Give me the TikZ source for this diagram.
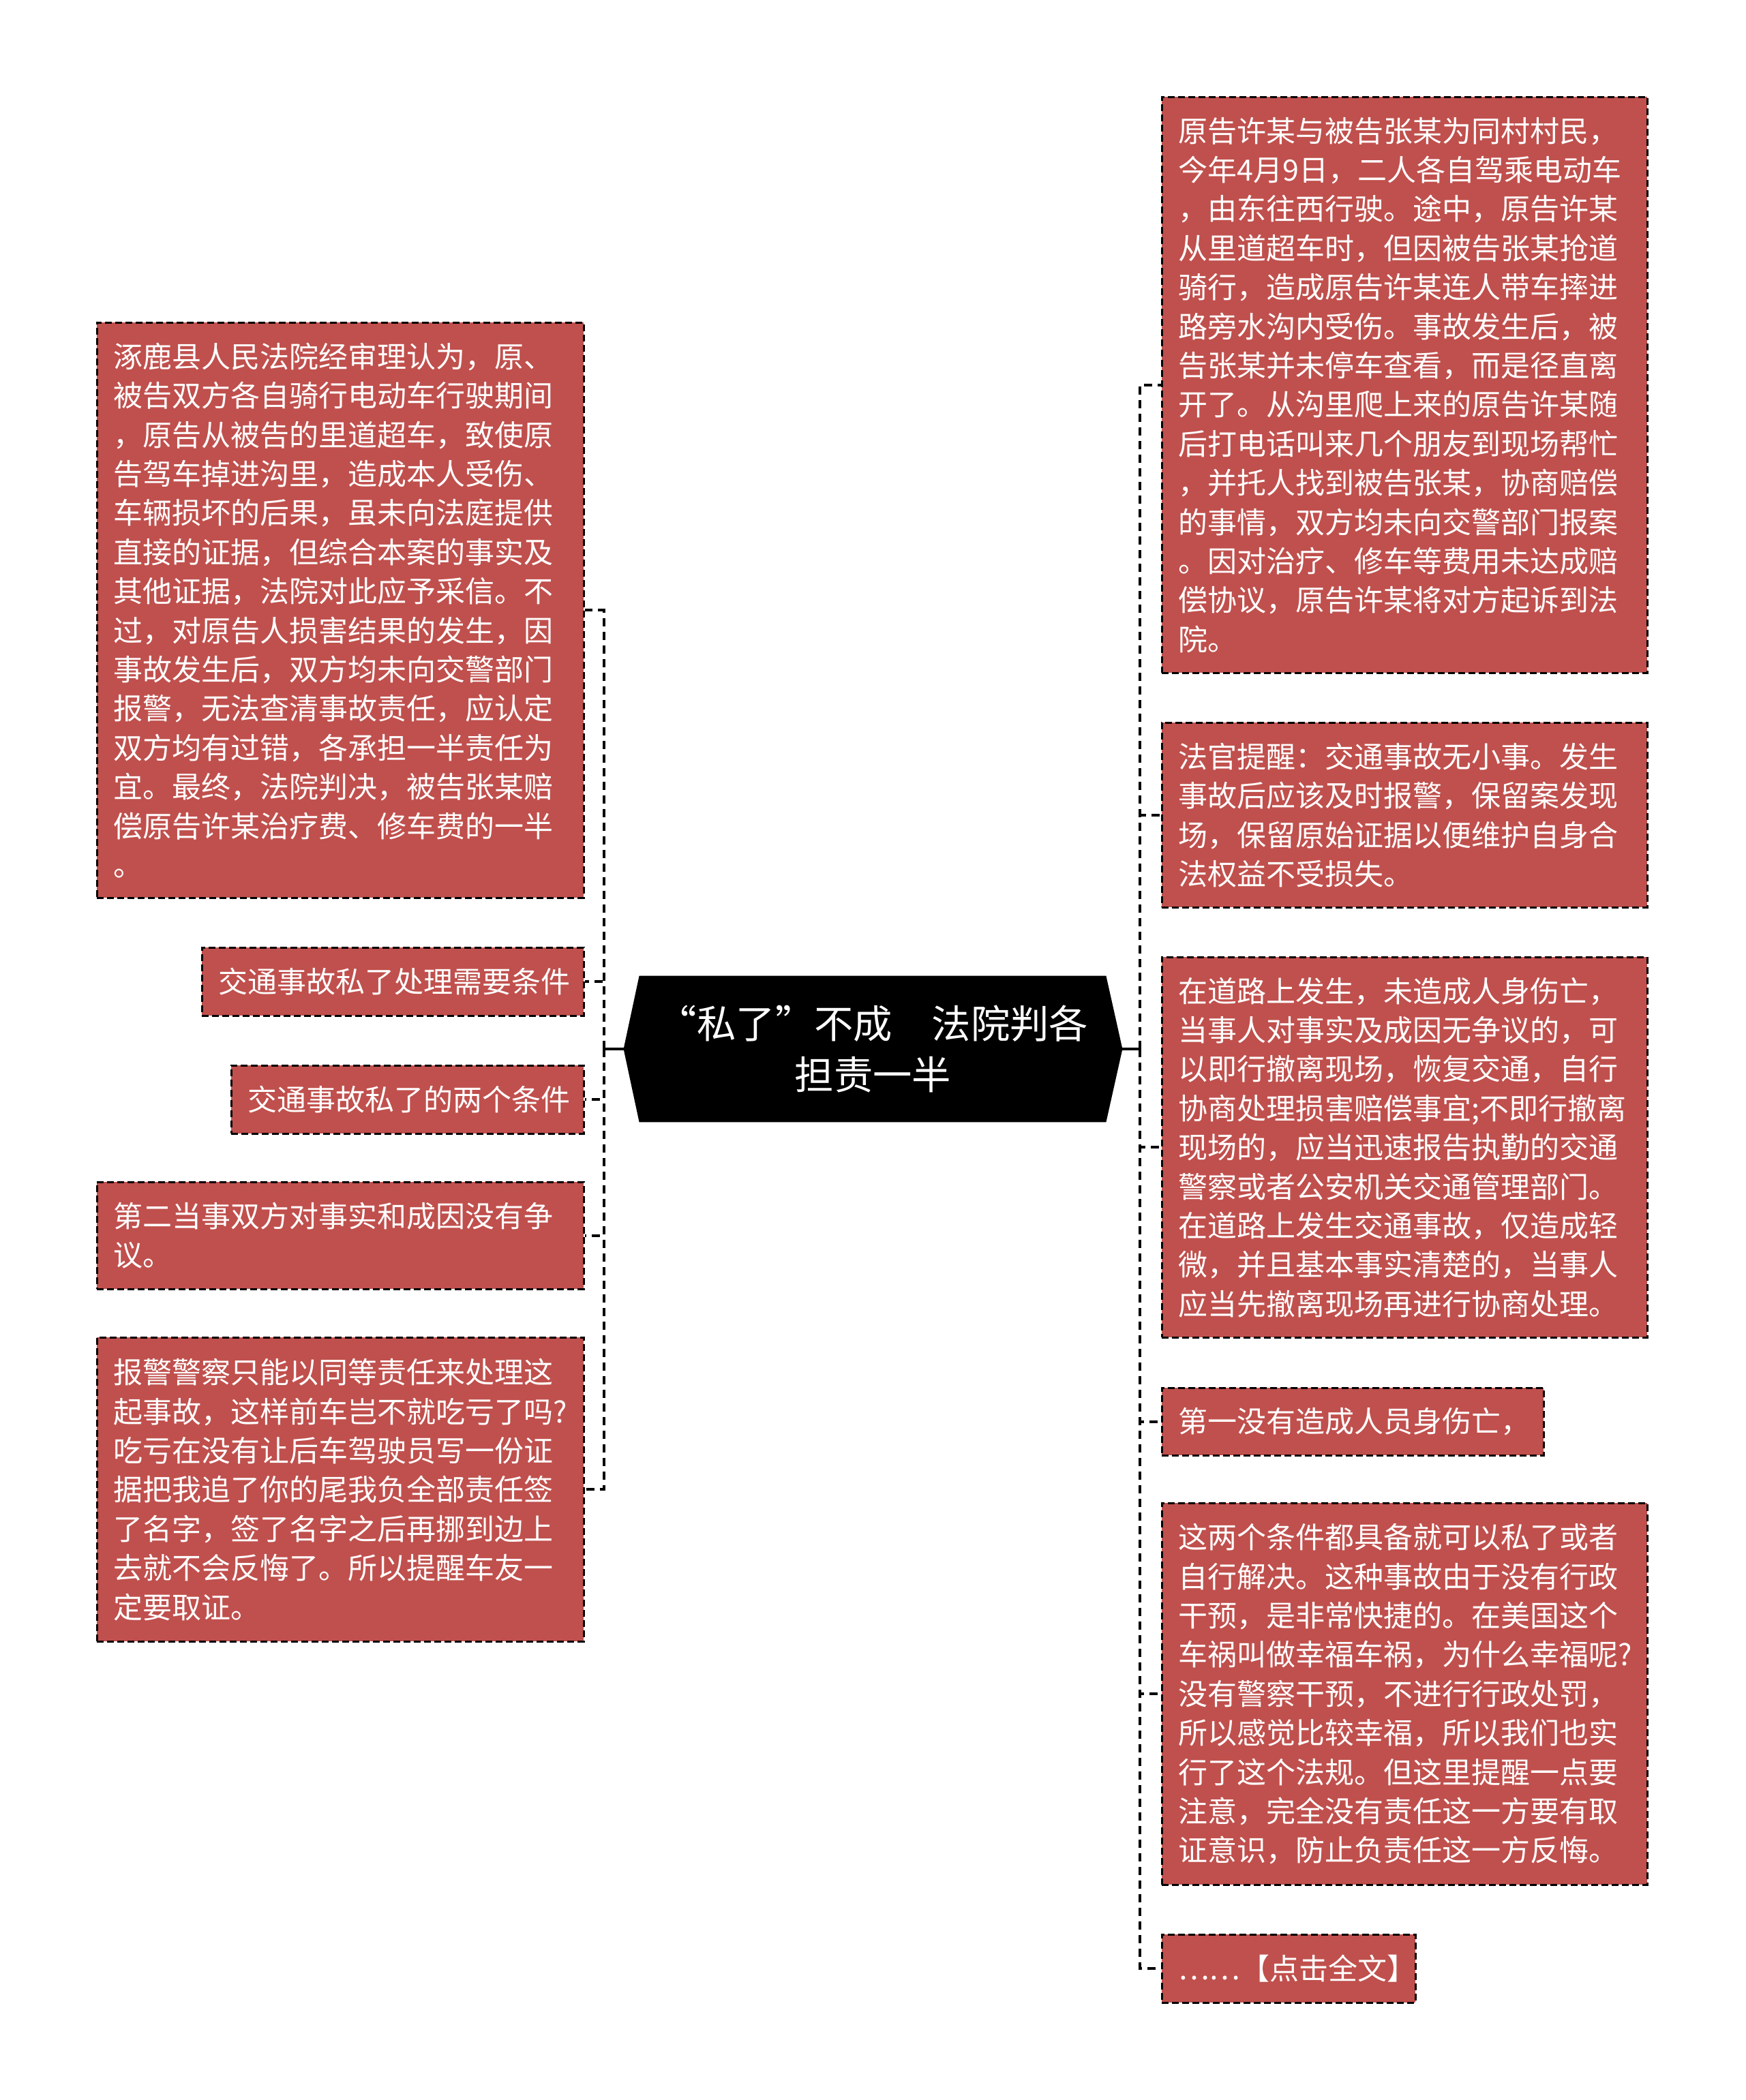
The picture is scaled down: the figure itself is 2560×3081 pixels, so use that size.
\documentclass[tikz,border=0pt]{standalone}
\usepackage{fontspec}
\newfontfamily\cjk{Noto Sans CJK SC}
\definecolor{boxred}{RGB}{192,80,77}
\pgfdeclarelayer{background}
\pgfsetlayers{background,main}
\tikzset{
  box/.style={anchor=north west, fill=boxred, draw=black, line width=1.4pt,
    dash pattern=on 5pt off 2.5pt, text=white, align=left, inner xsep=12pt, inner ysep=0pt,
    font=\cjk\fontsize{21.5pt}{28.7pt}\selectfont},
  conn/.style={draw=black, line width=2pt, dash pattern=on 6pt off 4pt},
  solidconn/.style={draw=black, line width=2pt},
  centre/.style={text=white, align=center, inner sep=0pt,
    font=\cjk\fontsize{28.7pt}{37.5pt}\selectfont}
}
\newcommand{\bx}[6]{% name, x, y, w, h, text
  \node[box, text width={(#4)/2*1pt-24pt}, minimum width={(#4)/2*1pt}, minimum height={(#5)/2*1pt}] (#1) at (#2,#3) {#6};}
\begin{document}
\begin{tikzpicture}[x=0.5pt,y=-0.5pt]
\useasboundingbox (0,0) rectangle (2560,3081);

% central node
\node[centre, minimum width=365.5pt, minimum height=107pt] (c) at (1280.5,1539) {“私了”不成　法院判各\\担责一半};
\begin{pgfonlayer}{background}
\fill[black] ([xshift=11.5pt]c.north west) -- ([xshift=-12pt]c.north east) -- (c.east)
  -- ([xshift=-12pt]c.south east) -- ([xshift=11.5pt]c.south west) -- (c.west) -- cycle;
\end{pgfonlayer}

% left boxes
\bx{L1}{141}{472}{714}{844}{涿鹿县人民法院经审理认为，原、\\被告双方各自骑行电动车行驶期间\\，原告从被告的里道超车，致使原\\告驾车掉进沟里，造成本人受伤、\\车辆损坏的后果，虽未向法庭提供\\直接的证据，但综合本案的事实及\\其他证据，法院对此应予采信。不\\过，对原告人损害结果的发生，因\\事故发生后，双方均未向交警部门\\报警，无法查清事故责任，应认定\\双方均有过错，各承担一半责任为\\宜。最终，法院判决，被告张某赔\\偿原告许某治疗费、修车费的一半\\。}
\bx{L2}{295}{1389}{560}{100}{交通事故私了处理需要条件}
\bx{L3}{338}{1562}{517}{100}{交通事故私了的两个条件}
\bx{L4}{141}{1733}{714}{157}{第二当事双方对事实和成因没有争\\议。}
\bx{L5}{141}{1961}{714}{446}{报警警察只能以同等责任来处理这\\起事故，这样前车岂不就吃亏了吗?\\吃亏在没有让后车驾驶员写一份证\\据把我追了你的尾我负全部责任签\\了名字，签了名字之后再挪到边上\\去就不会反悔了。所以提醒车友一\\定要取证。}

% right boxes
\bx{R1}{1703}{141}{712}{845}{原告许某与被告张某为同村村民，\\今年4月9日，二人各自驾乘电动车\\，由东往西行驶。途中，原告许某\\从里道超车时，但因被告张某抢道\\骑行，造成原告许某连人带车摔进\\路旁水沟内受伤。事故发生后，被\\告张某并未停车查看，而是径直离\\开了。从沟里爬上来的原告许某随\\后打电话叫来几个朋友到现场帮忙\\，并托人找到被告张某，协商赔偿\\的事情，双方均未向交警部门报案\\。因对治疗、修车等费用未达成赔\\偿协议，原告许某将对方起诉到法\\院。}
\bx{R2}{1703}{1059}{712}{271}{法官提醒：交通事故无小事。发生\\事故后应该及时报警，保留案发现\\场，保留原始证据以便维护自身合\\法权益不受损失。}
\bx{R3}{1703}{1403}{712}{558}{在道路上发生，未造成人身伤亡，\\当事人对事实及成因无争议的，可\\以即行撤离现场，恢复交通，自行\\协商处理损害赔偿事宜;不即行撤离\\现场的，应当迅速报告执勤的交通\\警察或者公安机关交通管理部门。\\在道路上发生交通事故，仅造成轻\\微，并且基本事实清楚的，当事人\\应当先撤离现场再进行协商处理。}
\bx{R4}{1703}{2035}{560}{99}{第一没有造成人员身伤亡，}
\bx{R5}{1703}{2204}{712}{560}{这两个条件都具备就可以私了或者\\自行解决。这种事故由于没有行政\\干预，是非常快捷的。在美国这个\\车祸叫做幸福车祸，为什么幸福呢?\\没有警察干预，不进行行政处罚，\\所以感觉比较幸福，所以我们也实\\行了这个法规。但这里提醒一点要\\注意，完全没有责任这一方要有取\\证意识，防止负责任这一方反悔。}
\bx{R6}{1703}{2837}{372}{100}{……【点击全文】}

% junctions
\coordinate (jl) at ([xshift=-14.5pt]c.west);
\coordinate (jr) at ([xshift=13pt]c.east);

\draw[solidconn] (c.west) -- (jl);
\draw[solidconn] (c.east) -- (jr);

\foreach \n in {L1,L2,L3,L4,L5}{\draw[conn] (jl) |- (\n.east);}
\foreach \n in {R1,R2,R3,R4,R5,R6}{\draw[conn] (jr) |- (\n.west);}
\end{tikzpicture}
\end{document}
